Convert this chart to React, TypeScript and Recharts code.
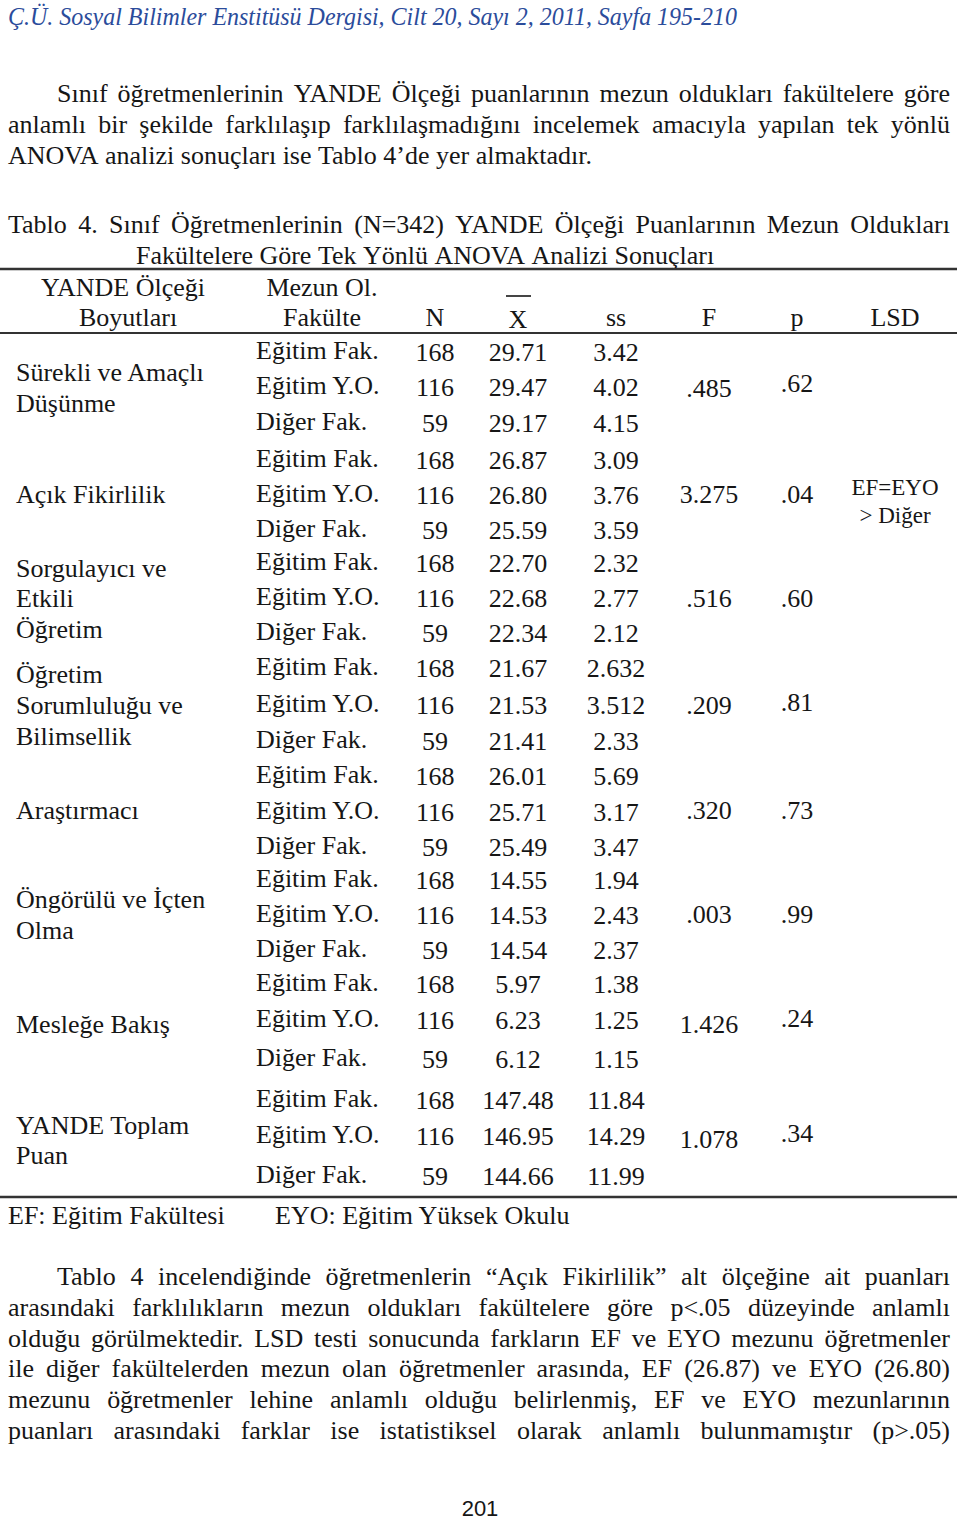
import React from 'react';
import { Surface, Layer } from 'recharts';

// table data
const DIMENSIONS: string[][] = [
  ['Sürekli ve Amaçlı', 'Düşünme'],
  ['Açık Fikirlilik'],
  ['Sorgulayıcı ve', 'Etkili', 'Öğretim'],
  ['Öğretim', 'Sorumluluğu ve', 'Bilimsellik'],
  ['Araştırmacı'],
  ['Öngörülü ve İçten', 'Olma'],
  ['Mesleğe Bakış'],
  ['YANDE Toplam', 'Puan'],
];
const FACULTIES = ['Eğitim Fak.', 'Eğitim Y.O.', 'Diğer Fak.'];
const N_VALUES = ['168', '116', '59'];
const MEANS: string[][] = [
  ['29.71', '29.47', '29.17'],
  ['26.87', '26.80', '25.59'],
  ['22.70', '22.68', '22.34'],
  ['21.67', '21.53', '21.41'],
  ['26.01', '25.71', '25.49'],
  ['14.55', '14.53', '14.54'],
  ['5.97', '6.23', '6.12'],
  ['147.48', '146.95', '144.66'],
];
const SDS: string[][] = [
  ['3.42', '4.02', '4.15'],
  ['3.09', '3.76', '3.59'],
  ['2.32', '2.77', '2.12'],
  ['2.632', '3.512', '2.33'],
  ['5.69', '3.17', '3.47'],
  ['1.94', '2.43', '2.37'],
  ['1.38', '1.25', '1.15'],
  ['11.84', '14.29', '11.99'],
];
const F_VALUES = ['.485', '3.275', '.516', '.209', '.320', '.003', '1.426', '1.078'];
const P_VALUES = ['.62', '.04', '.60', '.81', '.73', '.99', '.24', '.34'];
const LSD: string[][] = [[], ['EF=EYO', '> Diğer'], [], [], [], [], [], []];

// page text
const HEADER = 'Ç.Ü. Sosyal Bilimler Enstitüsü Dergisi, Cilt 20, Sayı 2, 2011, Sayfa 195-210';
const PARA1 = [
  'Sınıf öğretmenlerinin YANDE Ölçeği puanlarının mezun oldukları fakültelere göre',
  'anlamlı bir şekilde farklılaşıp farklılaşmadığını incelemek amacıyla yapılan tek yönlü',
  'ANOVA analizi sonuçları ise Tablo 4’de yer almaktadır.',
];
const CAPTION = [
  'Tablo 4. Sınıf Öğretmenlerinin (N=342) YANDE Ölçeği Puanlarının Mezun Oldukları',
  'Fakültelere Göre Tek Yönlü ANOVA Analizi Sonuçları',
];
const PARA2 = [
  'Tablo 4 incelendiğinde öğretmenlerin “Açık Fikirlilik” alt ölçeğine ait puanları',
  'arasındaki farklılıkların mezun oldukları fakültelere göre p<.05 düzeyinde anlamlı',
  'olduğu görülmektedir. LSD testi sonucunda farkların EF ve EYO mezunu öğretmenler',
  'ile diğer fakültelerden mezun olan öğretmenler arasında, EF (26.87) ve EYO (26.80)',
  'mezunu öğretmenler lehine anlamlı olduğu belirlenmiş, EF ve EYO mezunlarının',
  'puanları arasındaki farklar ise istatistiksel olarak anlamlı bulunmamıştır (p>.05)',
];
const FOOTNOTES = ['EF: Eğitim Fakültesi', 'EYO: Eğitim Yüksek Okulu'];
const PAGE_NO = '201';

// layout
const W = 960;
const H = 1522;
const SERIF = '"Liberation Serif", "Times New Roman", serif';
const INK = '#161616';
const ROW_Y = [361, 396, 432, 469, 504, 539, 572, 607, 642, 677, 714, 750, 785, 821, 856, 889, 924, 959, 993, 1029, 1068, 1109, 1145, 1185];
const DIM_Y = [[381, 412], [503], [577, 607, 638], [683, 714, 745], [819], [908, 939], [1033], [1134, 1164]];
const F_Y = [397, 503, 607, 714, 819, 923, 1033, 1148];
const P_Y = [392, 503, 607, 711, 819, 923, 1027, 1142];
const COL = { dim: 16, fac: 256, n: 435, mean: 518, ss: 616, f: 709, p: 797, lsd: 895 };

let ctx: CanvasRenderingContext2D | null = null;
const measure = (s: string, size: number) => {
  if (!ctx) ctx = document.createElement('canvas').getContext('2d');
  ctx!.font = `${size}px "Liberation Serif"`;
  return ctx!.measureText(s).width;
};

// one line of body text; justified lines spread the words to the full width
function Line({ text, x, y, width, justify, size = 26 }: {
  text: string; x: number; y: number; width?: number; justify?: boolean; size?: number;
}) {
  const words = text.split(' ');
  const raw = words.map((w) => measure(w, size));
  const rawTotal = raw.reduce((a, b) => a + b, 0);
  const space = measure(' ', size);
  let scale = 1;
  if (justify && width) {
    const room = width - space * 0.9 * (words.length - 1);
    if (rawTotal > room) scale = room / rawTotal;
  }
  const ws = raw.map((w) => w * scale);
  const total = rawTotal * scale;
  const gap = justify && width ? (width - total) / (words.length - 1) : space;
  let cx = x;
  return (
    <Layer>
      {words.map((w, i) => {
        const el = (
          <text key={i} x={cx} y={y} fontSize={size} fontFamily={SERIF} fill={INK}
            textLength={ws[i]} lengthAdjust="spacingAndGlyphs">{w}</text>
        );
        cx += ws[i] + gap;
        return el;
      })}
    </Layer>
  );
}

const Cell = ({ x, y, children, anchor = 'middle', size = 26 }: any) => (
  <text x={x} y={y} textAnchor={anchor} fontSize={size} fontFamily={SERIF} fill={INK}>{children}</text>
);

export default function App() {
  return (
    <div style={{ position: 'absolute', left: 0, top: 0, width: W, height: H, background: '#fff' }}>
      <Surface width={W} height={H} viewBox={{ x: 0, y: 0, width: W, height: H }}>
        <rect x={0} y={0} width={W} height={H} fill="#fff" />
        <text x={8} y={25} fontSize={25} fontStyle="italic" fontFamily={SERIF} fill="#2b4c9b"
          textLength={729} lengthAdjust="spacingAndGlyphs">{HEADER}</text>

        <Line text={PARA1[0]} x={57} y={102} width={893} justify />
        <Line text={PARA1[1]} x={8} y={133} width={942} justify />
        <Line text={PARA1[2]} x={8} y={164} />

        <Line text={CAPTION[0]} x={8} y={233} width={942} justify />
        <Line text={CAPTION[1]} x={136} y={264} />

        <line x1={0} x2={957} y1={269} y2={269} stroke="#333" strokeWidth={2.5} />
        <Cell x={123} y={296}>YANDE Ölçeği</Cell>
        <Cell x={322} y={296}>Mezun Ol.</Cell>
        <Cell x={128} y={326}>Boyutları</Cell>
        <Cell x={322} y={326}>Fakülte</Cell>
        <Cell x={COL.n} y={326}>N</Cell>
        <Cell x={COL.mean} y={328}>X</Cell>
        <line x1={506} x2={531} y1={296} y2={296} stroke={INK} strokeWidth={1.6} />
        <Cell x={COL.ss} y={326}>ss</Cell>
        <Cell x={COL.f} y={326}>F</Cell>
        <Cell x={COL.p} y={326}>p</Cell>
        <Cell x={COL.lsd} y={326}>LSD</Cell>
        <line x1={0} x2={957} y1={333} y2={333} stroke="#333" strokeWidth={2} />

        {DIMENSIONS.map((lines, g) => (
          <Layer key={g}>
            {lines.map((l, j) => (
              <Cell key={j} x={COL.dim} y={DIM_Y[g][j]} anchor="start">{l}</Cell>
            ))}
            {FACULTIES.map((fac, r) => {
              const y = ROW_Y[g * 3 + r];
              return (
                <Layer key={r}>
                  <Cell x={COL.fac} y={y - 2} anchor="start">{fac}</Cell>
                  <Cell x={COL.n} y={y}>{N_VALUES[r]}</Cell>
                  <Cell x={COL.mean} y={y}>{MEANS[g][r]}</Cell>
                  <Cell x={COL.ss} y={y}>{SDS[g][r]}</Cell>
                </Layer>
              );
            })}
            <Cell x={COL.f} y={F_Y[g]}>{F_VALUES[g]}</Cell>
            <Cell x={COL.p} y={P_Y[g]}>{P_VALUES[g]}</Cell>
            {LSD[g].map((l, j) => (
              <Cell key={j} x={COL.lsd} y={495 + j * 28} size={23}>{l}</Cell>
            ))}
          </Layer>
        ))}
        <line x1={0} x2={957} y1={1197} y2={1197} stroke="#333" strokeWidth={2.5} />

        <Cell x={8} y={1224} anchor="start">{FOOTNOTES[0]}</Cell>
        <Cell x={275} y={1224} anchor="start">{FOOTNOTES[1]}</Cell>

        {PARA2.map((t, i) => (
          <Line key={i} text={t} x={i === 0 ? 57 : 8} y={1285 + i * 30.8} width={i === 0 ? 893 : 942} justify />
        ))}

        <text x={480} y={1516} textAnchor="middle" fontSize={22}
          fontFamily='"Liberation Sans", "Open Sans", sans-serif' fill={INK}>{PAGE_NO}</text>
      </Surface>
    </div>
  );
}
